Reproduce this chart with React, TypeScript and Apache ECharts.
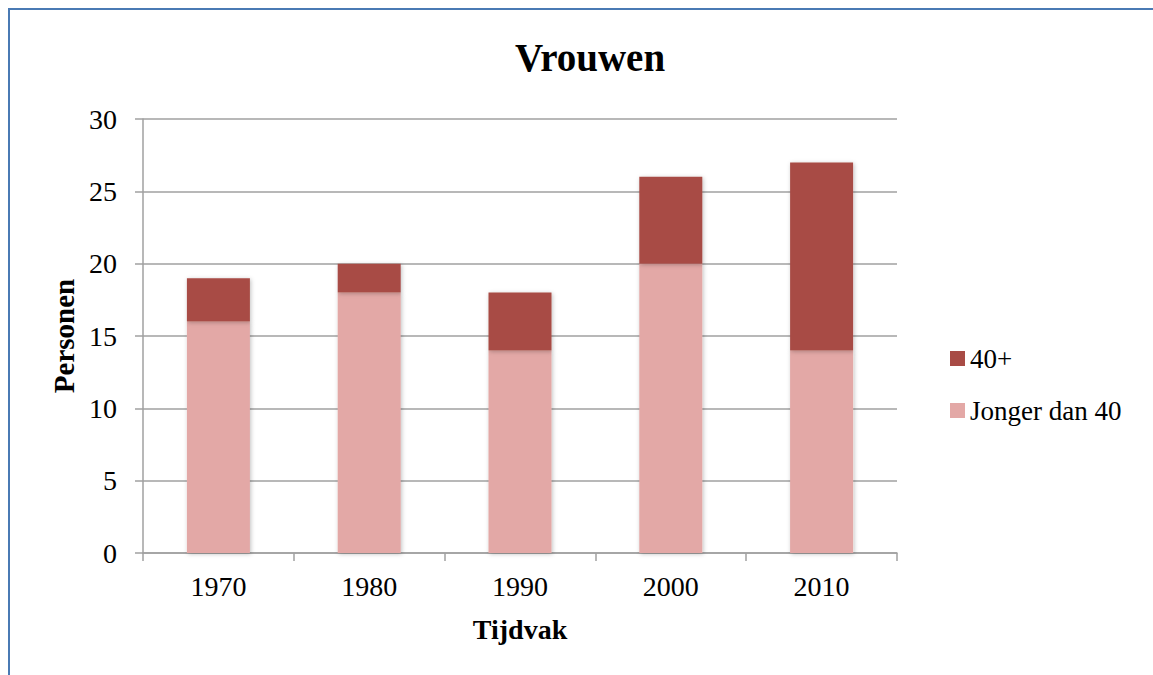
import React, { useEffect, useRef } from "react";
import * as echarts from "echarts";

const categories = ["1970", "1980", "1990", "2000", "2010"];
const jongerDan40 = [16, 18, 14, 20, 14];
const veertigPlus = [3, 2, 4, 6, 13];
const yTicks = { min: 0, max: 30, interval: 5 };

const FONT = "'Liberation Serif', 'DejaVu Serif', serif";

export default function App() {
  const ref = useRef<HTMLDivElement>(null);
  useEffect(() => {
    if (!ref.current) return;
    const chart = echarts.init(ref.current, undefined, { renderer: "svg" });
    chart.setOption({
      animation: false,
      backgroundColor: "#ffffff",
      textStyle: { fontFamily: FONT },
      title: {
        text: "Vrouwen",
        left: 585,
        top: 33,
        textAlign: "center",
        textStyle: { fontFamily: FONT, fontSize: 39, fontWeight: "bold", color: "#000" },
      },
      graphic: [
        {
          type: "rect",
          shape: { x: 9, y: 9, width: 1160, height: 700 },
          style: { fill: "none", stroke: "#4a7ab4", lineWidth: 2 },
          silent: true,
        },
      ],
      legend: {
        data: ["40+", "Jonger dan 40"],
        orient: "vertical",
        left: 945,
        top: 340,
        itemWidth: 15,
        itemHeight: 15,
        itemGap: 25,
        icon: "rect",
        textStyle: { fontFamily: FONT, fontSize: 27, color: "#000", padding: [0, 0, 0, 0] },
      },
      grid: { left: 143, right: 256, top: 119, bottom: 122, containLabel: false },
      xAxis: {
        type: "category",
        data: categories,
        name: "Tijdvak",
        nameLocation: "middle",
        nameGap: 62,
        nameTextStyle: { fontFamily: FONT, fontSize: 28, fontWeight: "bold", color: "#000" },
        axisLine: { lineStyle: { color: "#a0a0a0", width: 1.5 } },
        axisTick: { show: true, length: 8, lineStyle: { color: "#a0a0a0", width: 1.5 } },
        axisLabel: { fontFamily: FONT, fontSize: 28, color: "#000", margin: 19 },
      },
      yAxis: {
        type: "value",
        min: yTicks.min,
        max: yTicks.max,
        interval: yTicks.interval,
        name: "Personen",
        nameLocation: "middle",
        nameGap: 64,
        nameRotate: 90,
        nameTextStyle: { fontFamily: FONT, fontSize: 29, fontWeight: "bold", color: "#000" },
        axisLine: { show: true, lineStyle: { color: "#a0a0a0", width: 1.5 } },
        axisTick: { show: true, length: 8, lineStyle: { color: "#a0a0a0", width: 1.5 } },
        splitLine: { show: true, lineStyle: { color: "#a0a0a0", width: 1.5 } },
        axisLabel: { fontFamily: FONT, fontSize: 28, color: "#000", margin: 26 },
      },
      series: [
        {
          name: "Jonger dan 40",
          type: "bar",
          stack: "total",
          data: jongerDan40,
          barWidth: 63,
          itemStyle: {
            color: "#e3a8a6",
            shadowBlur: 4,
            shadowColor: "rgba(0,0,0,0.25)",
            shadowOffsetX: 1,
            shadowOffsetY: 1,
          },
        },
        {
          name: "40+",
          type: "bar",
          stack: "total",
          data: veertigPlus,
          barWidth: 63,
          itemStyle: {
            color: "#a84b45",
            shadowBlur: 4,
            shadowColor: "rgba(0,0,0,0.25)",
            shadowOffsetX: 1,
            shadowOffsetY: 1,
          },
        },
      ],
    });
    return () => chart.dispose();
  }, []);
  return (
    <div
      ref={ref}
      style={{ position: "fixed", left: 0, top: 0, width: 1153, height: 675 }}
    />
  );
}
